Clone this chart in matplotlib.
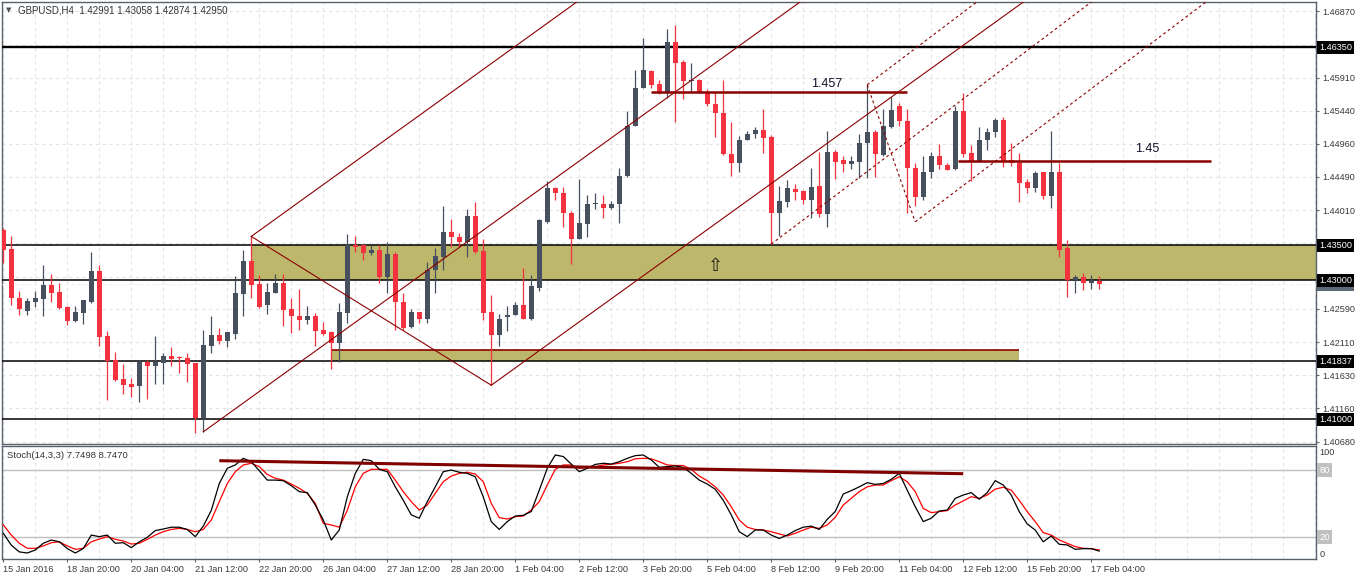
import matplotlib
matplotlib.use('Agg')
import matplotlib.pyplot as plt
import matplotlib.transforms as mtrans
import numpy as np

plt.rcParams['font.family'] = ['Liberation Sans', 'DejaVu Sans']

# ---------------- data (GBPUSD H4) ----------------
opens = [
    1.4372, 1.4345, 1.4275, 1.4256, 1.4269, 1.4273, 1.4293, 1.4283, 1.4262, 1.4241,
    1.4253, 1.4269, 1.4313, 1.4220, 1.4185, 1.4158, 1.4151, 1.4148, 1.4183, 1.4177,
    1.4181, 1.4191, 1.4189, 1.4188, 1.4181, 1.4102, 1.4206, 1.4221, 1.4213, 1.4223,
    1.4280, 1.4328, 1.4295, 1.4264, 1.4282, 1.4296, 1.4259, 1.4249, 1.4243, 1.4249,
    1.4228, 1.4225, 1.4210, 1.4253, 1.4351, 1.4351, 1.4339, 1.4343, 1.4304, 1.4338,
    1.4269, 1.4233, 1.4254, 1.4244, 1.4315, 1.4334, 1.4370, 1.4362, 1.4355, 1.4392,
    1.4342, 1.4254, 1.4221, 1.4247, 1.4250, 1.4264, 1.4244, 1.4289, 1.4384, 1.4432,
    1.4426, 1.4397, 1.4359, 1.4381, 1.4409, 1.4409, 1.4404, 1.4409, 1.4450, 1.4522,
    1.4576, 1.4601, 1.4582, 1.4569, 1.4642, 1.4614, 1.4586, 1.4588, 1.4570, 1.4553,
    1.4541, 1.4481, 1.4469, 1.4501, 1.4511, 1.4516, 1.4506, 1.4396, 1.4413, 1.4431,
    1.4429, 1.4416, 1.4435, 1.4395, 1.4484, 1.4473, 1.4467, 1.4470, 1.4497, 1.4513,
    1.4480, 1.4521, 1.4551, 1.4529, 1.4461, 1.4420, 1.4455, 1.4478, 1.4466, 1.4460,
    1.4543, 1.4483, 1.4472, 1.4502, 1.4513, 1.4530, 1.4473, 1.4468, 1.4441, 1.4433,
    1.4455, 1.4421, 1.4455, 1.4346, 1.4300, 1.4304, 1.4296, 1.42991]
highs = [
    1.4375, 1.4363, 1.4284, 1.4275, 1.4284, 1.4322, 1.4309, 1.4296, 1.4263, 1.4263,
    1.4272, 1.4340, 1.4322, 1.4227, 1.4197, 1.4179, 1.4159, 1.4185, 1.4185, 1.4220,
    1.4196, 1.4204, 1.4191, 1.4196, 1.4181, 1.4228, 1.4249, 1.4232, 1.4225, 1.4306,
    1.4343, 1.4363, 1.4308, 1.4296, 1.4309, 1.4309, 1.4275, 1.4287, 1.4263, 1.4253,
    1.4240, 1.4227, 1.4267, 1.4366, 1.4364, 1.4352, 1.4351, 1.4351, 1.4355, 1.4341,
    1.4281, 1.4258, 1.4254, 1.4326, 1.4346, 1.4407, 1.4388, 1.4368, 1.4402, 1.4413,
    1.4359, 1.4279, 1.4251, 1.4263, 1.4269, 1.4317, 1.4308, 1.4388, 1.4442, 1.4434,
    1.4434, 1.4400, 1.4445, 1.4423, 1.4426, 1.4422, 1.4414, 1.4461, 1.4543, 1.4602,
    1.4648, 1.4603, 1.4588, 1.4662, 1.4667, 1.4617, 1.4613, 1.4589, 1.4575, 1.4570,
    1.4588, 1.4527, 1.4507, 1.4515, 1.4521, 1.4546, 1.4509, 1.4436, 1.4444, 1.4438,
    1.4430, 1.4461, 1.4484, 1.4515, 1.4487, 1.4479, 1.4478, 1.4510, 1.4581, 1.4516,
    1.4546, 1.4564, 1.4555, 1.4546, 1.4469, 1.4479, 1.4484, 1.4496, 1.4468, 1.4551,
    1.4569, 1.4494, 1.4521, 1.4519, 1.4534, 1.4535, 1.4498, 1.4483, 1.4445, 1.4457,
    1.4456, 1.4515, 1.4469, 1.4358, 1.4307, 1.4310, 1.4307, 1.43058]
lows = [
    1.4325, 1.4264, 1.4250, 1.4250, 1.4261, 1.4248, 1.4268, 1.4258, 1.4236, 1.4240,
    1.4237, 1.4267, 1.4205, 1.4128, 1.4155, 1.4136, 1.4132, 1.4125, 1.4129, 1.4151,
    1.4151, 1.4177, 1.4167, 1.4153, 1.4080, 1.4082, 1.4196, 1.4209, 1.4204, 1.4216,
    1.4249, 1.4275, 1.4260, 1.4251, 1.4282, 1.4234, 1.4224, 1.4228, 1.4237, 1.4206,
    1.4221, 1.4173, 1.4183, 1.4239, 1.4341, 1.4329, 1.4336, 1.4296, 1.4282, 1.4229,
    1.4228, 1.4232, 1.4239, 1.4239, 1.4282, 1.4315, 1.4348, 1.4348, 1.4333, 1.4339,
    1.4243, 1.4149, 1.4205, 1.4227, 1.4250, 1.4244, 1.4243, 1.4285, 1.4383, 1.4415,
    1.4376, 1.4324, 1.4359, 1.4362, 1.4402, 1.4390, 1.4402, 1.4383, 1.4448, 1.4522,
    1.4576, 1.4577, 1.4568, 1.4562, 1.4528, 1.4560, 1.4571, 1.4569, 1.4551, 1.4506,
    1.4480, 1.4450, 1.4456, 1.4501, 1.4505, 1.4483, 1.4352, 1.4364, 1.4406, 1.4415,
    1.4409, 1.4389, 1.4391, 1.4377, 1.4445, 1.4455, 1.4460, 1.4447, 1.4447, 1.4448,
    1.4479, 1.4519, 1.4522, 1.4396, 1.4407, 1.4415, 1.4447, 1.4460, 1.4458, 1.4459,
    1.4477, 1.4442, 1.4470, 1.4487, 1.4506, 1.4463, 1.4464, 1.4412, 1.4426, 1.4427,
    1.4417, 1.4404, 1.4334, 1.4276, 1.4282, 1.4286, 1.4287, 1.42874]
closes = [
    1.4343, 1.4275, 1.4258, 1.4270, 1.4274, 1.4293, 1.4282, 1.4260, 1.4242, 1.4254,
    1.4271, 1.4313, 1.4219, 1.4184, 1.4156, 1.4150, 1.4147, 1.4183, 1.4177, 1.4183,
    1.4191, 1.4187, 1.4188, 1.4179, 1.4102, 1.4207, 1.4221, 1.4213, 1.4225, 1.4282,
    1.4328, 1.4293, 1.4261, 1.4283, 1.4296, 1.4257, 1.4248, 1.4243, 1.4249, 1.4227,
    1.4223, 1.4210, 1.4254, 1.4351, 1.4348, 1.4339, 1.4344, 1.4304, 1.4338, 1.4268,
    1.4232, 1.4254, 1.4244, 1.4315, 1.4335, 1.4369, 1.4362, 1.4355, 1.4392, 1.4341,
    1.4253, 1.4221, 1.4244, 1.4250, 1.4264, 1.4244, 1.4291, 1.4386, 1.4432, 1.4426,
    1.4396, 1.4359, 1.4383, 1.4409, 1.4410, 1.4404, 1.4409, 1.4450, 1.4522, 1.4577,
    1.4602, 1.4581, 1.4569, 1.4642, 1.4613, 1.4586, 1.4588, 1.4570, 1.4553, 1.4541,
    1.4481, 1.4469, 1.4502, 1.4511, 1.4516, 1.4505, 1.4396, 1.4414, 1.4432, 1.4427,
    1.4416, 1.4434, 1.4395, 1.4484, 1.4470, 1.4467, 1.4471, 1.4497, 1.4513, 1.4481,
    1.4522, 1.4545, 1.4529, 1.4461, 1.4420, 1.4455, 1.4478, 1.4465, 1.4459, 1.4543,
    1.4482, 1.4472, 1.4502, 1.4513, 1.4530, 1.4471, 1.4468, 1.4440, 1.4433, 1.4454,
    1.4421, 1.4455, 1.4344, 1.4301, 1.4304, 1.4296, 1.4299, 1.42950]

stoch_k = [
    23.6, 13, 7, 6, 8.7, 14.7, 17.6, 16, 10, 6,
    10, 22, 20.6, 22, 14.7, 15.2, 10.8, 16, 20, 26,
    27.4, 29, 29, 27, 20.6, 30, 44, 68, 81.5, 84.5,
    90.4, 87.4, 79.4, 71, 71, 70.5, 66, 60.7, 59.8, 48.8,
    35.4, 17.6, 26.5, 56, 77, 89.5, 88.3, 80.6, 78.5, 65,
    53, 40, 37, 51.8, 65, 78.5, 80, 78, 77, 74,
    56, 34, 27, 34, 39, 39.6, 43, 62, 81.5, 93.4,
    92, 85.3, 78.5, 81.5, 85, 86, 85.3, 87.4, 90.4, 92.8,
    93.4, 89, 82.4, 83, 83.6, 82.4, 77, 71, 67.5, 62.8,
    53, 40, 25, 20.6, 26.5, 26.5, 22, 19, 22, 26,
    29, 30, 27, 36, 43, 58.6, 61.6, 65, 68.7, 67.2,
    68, 71.7, 77, 62, 47.3, 34, 37, 43.5, 44.3, 54.7,
    57.7, 59.8, 54, 59.8, 70.5, 66.6, 57.7, 42.9, 31.9, 26.5,
    16, 21.2, 13.8, 13.2, 9.3, 9.9, 9.9, 7.7498]
stoch_d = [
    31, 22, 14.7, 10.2, 10.2, 12.3, 15.2, 16, 12.3, 9.3,
    10.2, 16, 18.5, 20.6, 18.2, 16.7, 14, 14.7, 18.2, 22,
    25, 27, 28, 27, 25, 27, 35.4, 51.8, 68, 78.5,
    84.5, 86, 83, 76, 72.6, 71, 67.5, 63.7, 59.2, 50.3,
    32.5, 31, 29, 44, 65, 77, 80.6, 80.6, 80.6, 71,
    60.7, 51.8, 44.3, 48.8, 59.2, 69.6, 74.6, 77, 78, 76.4,
    69.6, 50.3, 37.5, 36.3, 38.4, 39, 44.3, 51.8, 66.6, 80.6,
    84.5, 84.5, 81.5, 82.4, 83, 84.5, 85, 86, 87.4, 90,
    90.4, 90, 87.4, 84.5, 84, 84, 80.6, 74.6, 70.5, 65,
    57.7, 47.3, 35.4, 29, 27, 26.5, 25, 23, 21.2, 23.6,
    26.5, 29, 28, 31, 37.8, 48.8, 54.7, 60.7, 65, 66.6,
    66.6, 70.5, 74, 69.6, 60.7, 45.8, 42, 42.9, 43.8, 48.8,
    52.4, 56.2, 54.7, 57.7, 63, 64.6, 62, 53, 42.9, 34,
    24.2, 22, 17.6, 14.7, 11.7, 10.2, 9.9, 8.7470]

date_labels = ["15 Jan 2016", "18 Jan 20:00", "20 Jan 04:00", "21 Jan 12:00",
               "22 Jan 20:00", "26 Jan 04:00", "27 Jan 12:00", "28 Jan 20:00",
               "1 Feb 04:00", "2 Feb 12:00", "3 Feb 20:00", "5 Feb 04:00",
               "8 Feb 12:00", "9 Feb 20:00", "11 Feb 04:00", "12 Feb 12:00",
               "15 Feb 20:00", "17 Feb 04:00"]
price_ticks = [1.4687, 1.4639, 1.4591, 1.4544, 1.4496, 1.4449, 1.4401,
               1.4353, 1.4305, 1.4259, 1.4211, 1.4163, 1.4116, 1.4068]
price_tick_labels = ["1.46870", "", "1.45910", "1.45440", "1.44960", "1.44490",
                     "1.44010", "", "", "1.42590", "1.42110", "1.41630",
                     "1.41160", "1.40680"]

level_prices = [1.4635, 1.4350, 1.4300, 1.41837, 1.4100]
level_labels = ["1.46350", "1.43500", "1.43000", "1.41837", "1.41000"]
bid_price = 1.4295
zone_top, zone_bottom, zone_start = 1.4350, 1.4300, 31
zone2_top, zone2_bottom, zone2_start, zone2_end = 1.4200, 1.41837, 41, 127
res1_price, res1_start, res1_end = 1.4570, 81, 113
res2_price, res2_start, res2_end = 1.44715, 119.4, 151
fork1_points = [(25, lows[25]), (31, highs[31]), (61, lows[61])]
fork2_points = [(96, lows[96]), (108, highs[108]), (114, 1.4384)]
stoch_trend = [(27, 88.3), (120, 76.7)]
arrow_pos = (89, 1.4321)

# ---------------- styling ----------------
BULL = '#46505E'
BEAR = '#F2333F'
DRED = '#8B0000'
KHAKI = '#BDB76B'
SPINE = '#58626D'
GRIDC = '#E4E4E4'
TXT = '#3A3A3A'

W, H = 1358, 581
fig = plt.figure(figsize=(W / 100, H / 100), dpi=100)
fig.patch.set_facecolor('white')

def fx(px):
    return px / W

ax = fig.add_axes([fx(2.3), 1 - 443.5 / H, fx(1316 - 2.3), (443.5 - 2.3) / H])
ax2 = fig.add_axes([fx(2.3), 1 - 559.3 / H, fx(1316 - 2.3), (559.3 - 446) / H])

XMIN, XMAX = -0.125, 164.1
for a in (ax, ax2):
    a.set_xlim(XMIN, XMAX)
    for s in a.spines.values():
        s.set_color(SPINE)
        s.set_linewidth(1.0)
ax.set_ylim(1.40652, 1.46997)
ax2.set_ylim(0.4, 101.4)

# grid
for a in (ax, ax2):
    for gx in range(0, 165, 4):
        a.axvline(gx, color=GRIDC, lw=0.8, dashes=(3, 3), zorder=0.5)
for gy in price_ticks:
    ax.axhline(gy, color=GRIDC, lw=0.8, dashes=(3, 3), zorder=0.5)

# zones
ax.fill_between([zone_start, XMAX + 1], zone_bottom, zone_top, color=KHAKI, lw=0, zorder=1)
ax.fill_between([zone2_start, zone2_end], zone2_bottom, zone2_top, color=KHAKI, lw=0, zorder=1)
ax.plot([zone2_start, zone2_end], [zone2_top, zone2_top], color=DRED, lw=1.2, zorder=3,
        solid_capstyle='butt')

# horizontal levels
for p in level_prices:
    ax.axhline(p, color='black', lw=1.7 if p == 1.4635 else 1.1, zorder=3)
ax.axhline(bid_price, color='#F4F4F4', lw=0.9, dashes=(3, 2), zorder=3.2)

# candles
o = np.array(opens); h = np.array(highs); l = np.array(lows); c = np.array(closes)
idx = np.arange(len(o))
cols = np.where(c >= o, BULL, BEAR)
ax.vlines(idx, l, h, colors=cols, lw=0.9, zorder=4)
bottom = np.minimum(o, c)
height = np.maximum(np.abs(c - o), 0.00016)
ax.bar(idx, height, 0.62, bottom=bottom, color=cols, lw=0, zorder=4.5)

# pitchforks
def pitchfork(pts, ls):
    (x1, y1), (x2, y2), (x3, y3) = pts
    mx, my = (x2 + x3) / 2, (y2 + y3) / 2
    s = (my - y1) / (mx - x1)
    xe = XMAX + 5
    for (x0, y0) in pts:
        ax.plot([x0, xe], [y0, y0 + s * (xe - x0)], color=DRED, lw=0.8, ls=ls, zorder=5)
    ax.plot([x2, x3], [y2, y3], color=DRED, lw=0.8, ls=ls, zorder=5)

pitchfork(fork1_points, '-')
pitchfork(fork2_points, (0, (2.5, 2.5)))

# resistance lines with labels
ax.plot([res1_start, res1_end], [res1_price, res1_price], color=DRED, lw=1.8, zorder=5,
        solid_capstyle='butt')
ax.text(102.9, 1.4582, '1.457', fontsize=9, color='#10102A', ha='center', va='center', zorder=6)
ax.plot([res2_start, res2_end], [res2_price, res2_price], color=DRED, lw=1.8, zorder=5,
        solid_capstyle='butt')
ax.text(143, 1.44883, '1.45', fontsize=9, color='#10102A', ha='center', va='center', zorder=6)

# arrow object (outlined up arrow)
ax.text(arrow_pos[0], arrow_pos[1], '\u21e7', fontsize=13, family='DejaVu Sans',
        color='#1A1A1A', ha='center', va='center', zorder=6)

# right price axis
ax.yaxis.tick_right()
ax.set_yticks(price_ticks)
ax.set_yticklabels(price_tick_labels)
ax.tick_params(axis='y', length=2.5, width=0.8, pad=2, labelsize=6.6,
               labelcolor=TXT, color='#666666')
ax.tick_params(axis='x', bottom=False, labelbottom=False)

trans = mtrans.blended_transform_factory(ax.transAxes, ax.transData)
ax.text(1.0023, bid_price - 0.00005, '1.42950', transform=trans, fontsize=6.6, color='white',
        ha='left', va='center', clip_on=False, zorder=7,
        bbox=dict(boxstyle='square,pad=0.22', fc='#5E6A76', ec='none'))
for p, lab in zip(level_prices, level_labels):
    ax.text(1.0023, p, lab, transform=trans, fontsize=6.6, color='white',
            ha='left', va='center', clip_on=False, zorder=8,
            bbox=dict(boxstyle='square,pad=0.22', fc='black', ec='none'))

# header
fig.text(fx(6), 1 - 10.5 / H, '\u25bc', fontsize=5, color='#505050', va='center',
         family='DejaVu Sans')
fig.text(fx(18), 1 - 10.5 / H, 'GBPUSD,H4  1.42991 1.43058 1.42874 1.42950',
         fontsize=7, color='#333333', va='center')

# ---------------- stochastic ----------------
ax2.axhline(80, color='#C0C0C0', lw=1, zorder=1)
ax2.axhline(20, color='#C0C0C0', lw=1, zorder=1)
ax2.plot(idx, stoch_d, color='#FF0000', lw=0.9, zorder=3)
ax2.plot(idx, stoch_k, color='black', lw=0.9, zorder=4)
ax2.plot([stoch_trend[0][0], stoch_trend[1][0]], [stoch_trend[0][1], stoch_trend[1][1]],
         color='#800000', lw=2.2, zorder=5, solid_capstyle='butt')
ax2.text(fx(7.3 - 2.3) / fx(1316 - 2.3), 0.915, 'Stoch(14,3,3) 7.7498 8.7470',
         transform=ax2.transAxes, fontsize=6.8, color='#333333', va='center', ha='left')

ax2.set_yticks([])
trans2 = mtrans.blended_transform_factory(ax2.transAxes, ax2.transData)
ax2.text(1.0026, 100, '100', transform=trans2, fontsize=6.6, color=TXT, ha='left', va='top',
         clip_on=False)
ax2.text(1.0026, 1.0, '0', transform=trans2, fontsize=6.6, color=TXT, ha='left', va='bottom',
         clip_on=False)
for v in (80, 20):
    ax2.text(1.0026, v, str(v), transform=trans2, fontsize=6.8, color='white', ha='left',
             va='center', clip_on=False,
             bbox=dict(boxstyle='square,pad=0.25', fc='#C0C0C0', ec='none'))

ax2.set_xticks(list(range(0, 8 * len(date_labels), 8)))
ax2.set_xticklabels(date_labels, ha='left')
ax2.tick_params(axis='x', length=2.2, width=0.8, pad=1.8, labelsize=6.6, labelcolor=TXT,
                color='#666666')

fig.savefig('out.png', dpi=100, facecolor='white')
